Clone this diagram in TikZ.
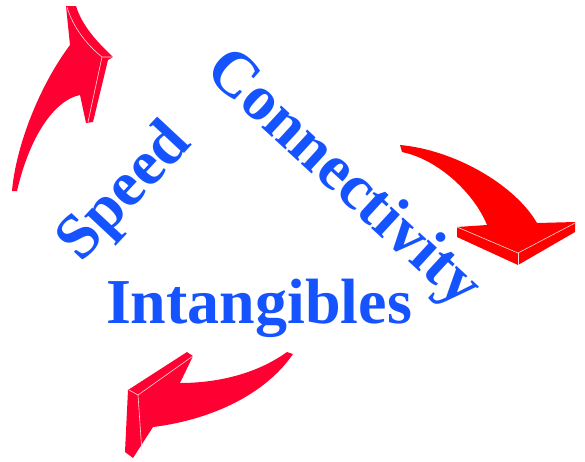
\documentclass[tikz,border=0pt]{standalone}
\usepackage{fontspec}
\setmainfont{Liberation Serif}
\definecolor{wordblue}{HTML}{1553FF}
\definecolor{arrowred}{HTML}{FF0033}
\definecolor{arrowpure}{HTML}{FF0000}
\begin{document}
\begin{tikzpicture}[x=1pt, y=-1pt,
    word/.style={text=wordblue, font=\fontsize{64}{64}\bfseries\selectfont, inner sep=0pt},
    edge/.style={draw=white!85!red, line width=0.6pt}]
    \useasboundingbox (0,0) rectangle (585,461);

    % Flecha superior izquierda
    \fill[arrowred] (12,191) .. controls (16,145) and (40,85) .. (70,45) -- (66,6) -- (76,6)
        .. controls (82,25) and (95,40) .. (113,57) -- (108,60) -- (93,122) -- (86,123) -- (80,95)
        .. controls (55,100) and (30,135) .. (17,191) -- cycle;
    \draw[edge] (67,7) .. controls (73,27) and (86,44) .. (102,57) -- (113,57);
    \draw[edge] (102,57) -- (88,122);

    % Flecha derecha
    \fill[arrowpure] (400,145) .. controls (455,150) and (515,185) .. (537,223) -- (575,222)
        -- (575,232) -- (518,265) -- (457,237) -- (457,227) -- (487,225)
        .. controls (475,195) and (440,160) .. (402,152) -- cycle;
    \draw[edge] (457,227) -- (518,253) -- (575,223);
    \draw[edge] (518,253) -- (518,265);

    % Flecha inferior
    \fill[arrowred] (287,352) .. controls (255,375) and (215,383) .. (180,383) -- (193,356)
        -- (187,352) -- (128,390) -- (125,452) -- (133,458) -- (153,427)
        .. controls (210,420) and (265,395) .. (293,354) -- cycle;
    \draw[edge] (129,390) -- (138,395) -- (193,356);
    \draw[edge] (138,395) -- (142,453);

    % Palabras
    \node[word, anchor=base west, rotate=-42.6] (connectivity) at (203,73) {Connectivity};
    \node[word, anchor=base, rotate=47] (speed) at (137,204) {Speed};
    \node[word, anchor=base] (intangibles) at (259,323) {Intangibles};
\end{tikzpicture}
\end{document}
